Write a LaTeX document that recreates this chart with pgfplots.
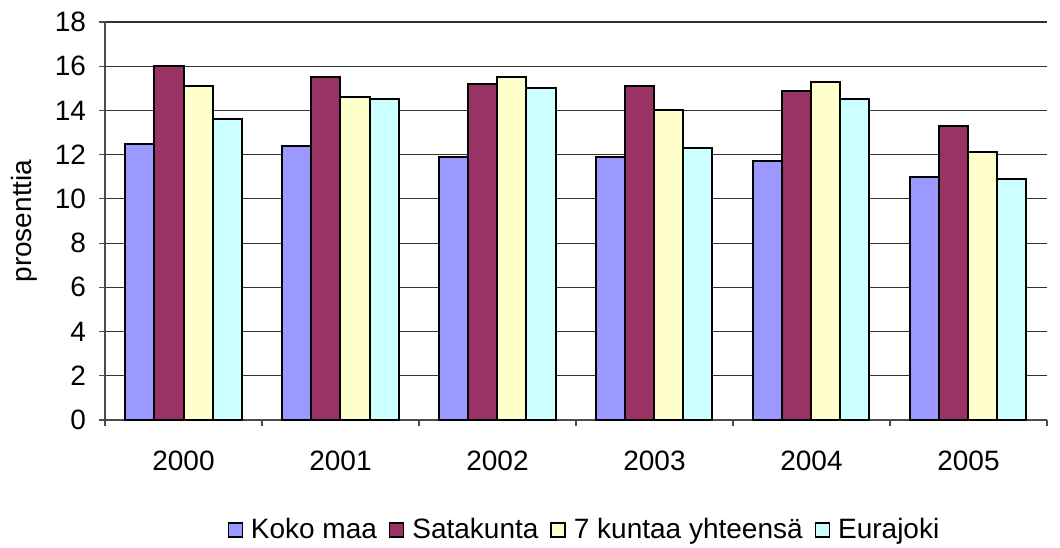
\documentclass[border=0pt]{standalone}
\usepackage{pgfplots}
\pgfplotsset{compat=1.18}
\usepackage{fontspec}
\setmainfont{Liberation Sans}
\definecolor{c1}{HTML}{9999FF}
\definecolor{c2}{HTML}{993366}
\definecolor{c3}{HTML}{FFFFCC}
\definecolor{c4}{HTML}{CCFFFF}
\begin{document}
\begin{tikzpicture}
\useasboundingbox (-52.5pt,-63.5pt) rectangle (477.5pt,210pt);
\begin{axis}[
  at={(0,0)}, anchor=south west,
  scale only axis, width=471pt, height=199pt,
  ybar=0pt, bar width=14.5pt,
  xmin=-0.5, xmax=5.5, ymin=0, ymax=18,
  ytick={0,2,...,18},
  xtick={0,...,5}, xticklabels={2000,2001,2002,2003,2004,2005},
  minor xtick={-0.5,0.5,...,5.5},
  major x tick style={draw=none},
  minor tick length=3pt, major tick length=3pt,
  tick align=outside,
  axis x line*=bottom, axis y line*=left,
  axis line style={draw=black!70, line width=0.8pt, -},
  tick style={draw=black!70, line width=0.6pt},
  ymajorgrids, grid style={draw=black!80, line width=0.6pt},
  /pgf/number format/assume math mode=true,
  ticklabel style={font=\fontsize{14}{16}\selectfont},
  xticklabel style={yshift=-9pt},
  yticklabel style={xshift=-3pt},
  ylabel={prosenttia}, ylabel style={font=\fontsize{14}{16}\selectfont, yshift=2pt},
  every axis plot/.append style={draw=black, line width=1pt},
  legend style={at={(0.51,-0.276)}, anchor=center, draw=none, legend columns=-1,
    font=\fontsize{14}{16}\selectfont,
    /tikz/every even column/.append style={column sep=4pt}},
  legend image code/.code={\draw[#1, line width=0.7pt] (0pt,-3.5pt) rectangle (7pt,3.5pt);},
]
\addplot[fill=c1] coordinates {(0,12.5) (1,12.4) (2,11.9) (3,11.9) (4,11.7) (5,11.0)};
\addplot[fill=c2] coordinates {(0,16.0) (1,15.5) (2,15.2) (3,15.1) (4,14.9) (5,13.3)};
\addplot[fill=c3] coordinates {(0,15.1) (1,14.6) (2,15.5) (3,14.0) (4,15.3) (5,12.1)};
\addplot[fill=c4] coordinates {(0,13.6) (1,14.5) (2,15.0) (3,12.3) (4,14.5) (5,10.9)};
\legend{\hspace{2pt}Koko maa, \hspace{2pt}Satakunta, \hspace{2pt}7 kuntaa yhteensä, \hspace{2pt}Eurajoki}
\end{axis}
\end{tikzpicture}
\end{document}
